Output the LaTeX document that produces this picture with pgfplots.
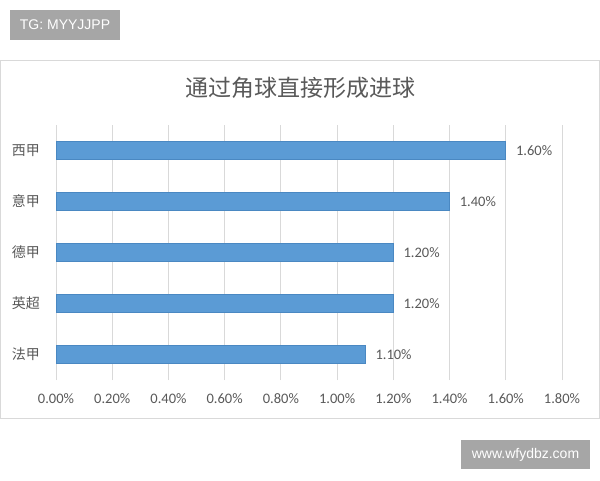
\documentclass[border=0pt]{standalone}
\usepackage{pgfplots}
\pgfplotsset{compat=1.18}
\usepackage{fontspec}
\setmainfont{Carlito}
\newfontfamily\cjk{Noto Sans CJK SC}
\newfontfamily\wm{Liberation Sans}
\definecolor{barblue}{HTML}{5B9BD5}
\definecolor{baredge}{HTML}{4A88C2}
\definecolor{txtgray}{HTML}{595959}
\definecolor{gridgray}{HTML}{D9D9D9}
\definecolor{wmgray}{HTML}{A6A6A6}
\begin{document}
\begin{tikzpicture}[x=1pt,y=1pt]
% canvas, 1pt = 1px
\fill[white] (0,0) rectangle (600,480);
% chart frame
\draw[gridgray, line width=1pt] (0.5,62) rectangle (599.5,419);
% watermarks
\fill[wmgray] (10,440) rectangle (120,470);
\node[white, font=\wm\fontsize{14}{16}\selectfont] at (65,455) {TG: MYYJJPP};
\fill[wmgray] (461,11) rectangle (590,40);
\node[white, font=\wm\fontsize{14}{16}\selectfont] at (525.5,25.5) {www.wfydbz.com};
% title
\node[txtgray, font=\cjk\fontsize{23}{26}\selectfont] at (300,392) {通过角球直接形成进球};
\begin{axis}[
    at={(56pt,100pt)}, anchor=south west,
    width=506pt, height=255pt, scale only axis,
    /pgf/number format/assume math mode=true,
    xbar, bar width=17.5pt,
    xmin=0, xmax=1.8,
    ymin=-0.5, ymax=4.5,
    axis line style={draw=none},
    major tick length=0pt,
    xmajorgrids=true,
    grid style={gridgray, line width=0.8pt},
    xtick={0,0.2,0.4,0.6,0.8,1.0,1.2,1.4,1.6,1.8},
    xticklabels={0.00\%,0.20\%,0.40\%,0.60\%,0.80\%,1.00\%,1.20\%,1.40\%,1.60\%,1.80\%},
    xticklabel style={font=\fontsize{14.5}{16}\selectfont, text=txtgray, inner sep=0pt, anchor=center, yshift=-19pt},
    ytick={0,1,2,3,4},
    yticklabels={法甲,英超,德甲,意甲,西甲},
    yticklabel style={font=\cjk\fontsize{14}{16}\selectfont, text=txtgray, inner sep=0pt, anchor=east, xshift=-16pt},
    nodes near coords={\pgfmathprintnumber[fixed,fixed zerofill,precision=2]{\pgfplotspointmeta}\%},
    nodes near coords align={horizontal},
    every node near coord/.append style={font=\fontsize{14.5}{16}\selectfont, text=txtgray, anchor=west, inner sep=0pt, xshift=10pt},
    point meta=explicit,
]
\addplot[fill=barblue, draw=baredge, line width=0.6pt]
    coordinates {
    (1.1,0) [1.1]
    (1.2,1) [1.2]
    (1.2,2) [1.2]
    (1.4,3) [1.4]
    (1.6,4) [1.6]
    };
\end{axis}
\end{tikzpicture}
\end{document}
